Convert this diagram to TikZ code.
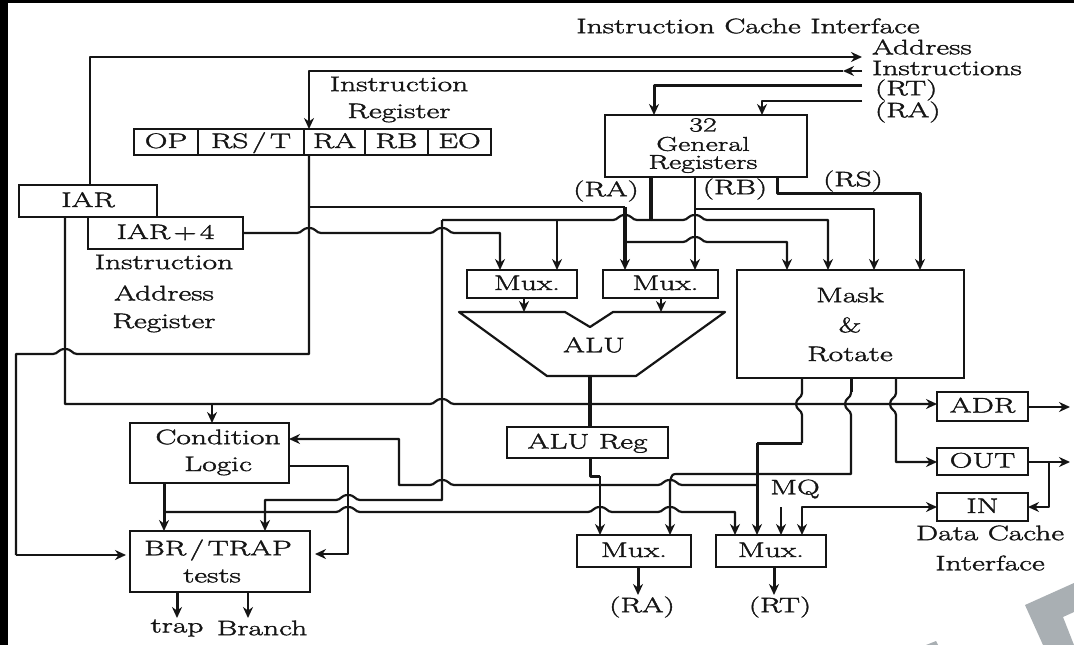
\documentclass[tikz,border=0pt]{standalone}
\usepackage{fontspec}
\setmainfont{Latin Modern Roman}[FakeStretch=1.5,FakeBold=1.8]
\usetikzlibrary{arrows.meta}
\definecolor{ink}{HTML}{151515}
\definecolor{wmark}{HTML}{A9AFB3}
\tikzset{
  wire/.style={draw=ink,line width=2.2pt,line join=round},
  medium/.style={draw=ink,line width=3pt,line join=round},
  heavy/.style={draw=ink,line width=3.3pt,line join=round},
  tip/.tip={Stealth[length=11pt,width=10pt]},
  box/.style={draw=ink,line width=2.4pt,rectangle,inner sep=0pt,outer sep=0pt,fill=white,text=ink,font=\fontsize{21}{24}\selectfont,text height=14pt,text depth=2pt},
  lbl/.style={inner sep=0pt,outer sep=0pt,text=ink,font=\fontsize{21}{24}\selectfont},
  lblgr/.style={inner sep=0pt,outer sep=0pt,text=ink,font=\fontsize{20}{23}\selectfont},
}
% box given by its corners
\newcommand{\mybox}[6]{\node[box,minimum width={(#4-#2)*1pt},minimum height={(#5-#3)*1pt}] (#1) at ({(#2+#4)/2},{(#3+#5)/2}) {#6};}
% hops over a crossing wire
\def\hh#1#2{-- ({#1-12},#2) .. controls ({#1-7},#2) and ({#1-7},{#2-5}) .. (#1,{#2-5}) .. controls ({#1+7},{#2-5}) and ({#1+7},#2) .. ({#1+12},#2)}
\def\hl#1#2{-- ({#1+12},#2) .. controls ({#1+7},#2) and ({#1+7},{#2-5}) .. (#1,{#2-5}) .. controls ({#1-7},{#2-5}) and ({#1-7},#2) .. ({#1-12},#2)}
\def\hv#1#2{-- (#1,{#2-11}) .. controls (#1,{#2-6}) and ({#1-6},{#2-6}) .. ({#1-6},#2) .. controls ({#1-6},{#2+6}) and (#1,{#2+6}) .. (#1,{#2+11})}
\begin{document}
\begin{tikzpicture}[x=1pt,y=-1pt]
\useasboundingbox (0,0) rectangle (1074,645);
% page: black edge, white sheet, grey watermark
\fill[black] (0,0) rectangle (1074,645);
\fill[white] (8,3) rectangle (1074,645);
\fill[wmark] (1025,605) -- (1074,583) -- (1074,612) -- (1063,617) -- (1074,645) -- (1043,645) -- cycle;
\fill[wmark] (926,645) -- (936,641) -- (938,645) -- cycle;

% boxes
\mybox{op}{134}{129}{198}{155}{OP}
\mybox{rst}{198}{129}{304}{155}{RS\,/\,T}
\mybox{ra}{304}{129}{365}{155}{RA}
\mybox{rb}{365}{129}{428}{155}{RB}
\mybox{eo}{428}{129}{491}{155}{EO}
\mybox{iar}{19}{185}{157}{217}{IAR}
\mybox{iarp}{88}{217}{243}{249}{IAR\,+\,4}
\mybox{gr}{605}{115}{807}{177}{}
\mybox{muxa}{467}{270}{577}{298}{\hspace*{10pt}Mux.}
\mybox{muxb}{603}{270}{718}{298}{\hspace*{10pt}Mux.}
\mybox{mask}{737}{270}{964}{378}{}
\mybox{alureg}{507}{427}{668}{458}{ALU\ Reg}
\mybox{cond}{130}{423}{289}{483}{}
\mybox{brt}{130}{531}{310}{592}{}
\mybox{muxc}{577}{535}{691}{567}{Mux.}
\mybox{muxd}{716}{535}{826}{567}{Mux.}
\mybox{adr}{937}{392}{1028}{421}{ADR}
\mybox{out}{937}{448}{1028}{475}{OUT}
\mybox{in}{937}{493}{1028}{521}{IN}
\draw[draw=ink,line width=2.2pt,fill=white,line join=round] (459,312) -- (565,312) -- (590,327) -- (613,312) -- (725,312) -- (636,376) -- (547,376) -- cycle;
\coordinate (alubot) at (590,376);

% free wire ends
\coordinate (addrEnd) at (862,57);
\coordinate (instEnd) at (862,71);
\coordinate (instTip) at (843,71);
\coordinate (rtEnd) at (862,85);
\coordinate (raEnd) at (862,101);
\coordinate (adrOut) at (1070,407);
\coordinate (outOut) at (1070,462);
\coordinate (mqEnd) at (781,507);
\coordinate (trapEnd) at (177,618);
\coordinate (branchEnd) at (248,618);
\coordinate (raOut) at (638,595);
\coordinate (rtOut) at (774,595);

% instruction cache side
\draw[wire,-tip] (90,0 |- iar.north) -- (90,57) -- (addrEnd);
\draw[wire,-tip] (instEnd) -- (instTip);
\draw[wire,-tip] (instTip) -- (309,71) -- (309,0 |- ra.north);
\draw[medium,-tip] (rtEnd) -- (654,85) -- (654,0 |- gr.north);
\draw[wire,-tip] (raEnd) -- (762,101) -- (762,0 |- gr.north);

% IAR+4 to first Mux.
\draw[wire,-tip] (iarp.east) \hh{309}{233} \hh{442}{233} -- (500,233) -- (500,0 |- muxa.north);

% RA field of the instruction register
\draw[wire] (309,0 |- ra.south) -- (309,354) \hl{65}{354} -- (16,354) -- (16,555);
\draw[wire,-tip] (16,555) -- (126,555);
\draw[wire] (309,207) -- (625,207);
\draw[heavy,-tip] (625,207) -- (625,0 |- muxb.north);
\draw[wire,-tip] (625,242) \hh{695}{242} -- (787,242) -- (787,0 |- mask.north);

% general registers
\draw[heavy] (651,0 |- gr.south) -- (651,220);
\draw[wire] (651,220) \hl{625}{220} -- (442,220);
\draw[wire,-tip] (557,220) -- (557,0 |- muxa.north);
\draw[wire,-tip] (651,220) \hh{695}{220} -- (828,220) -- (828,0 |- mask.north);
\draw[wire,-tip] (695,0 |- gr.south) -- (695,0 |- muxb.north);
\draw[wire,-tip] (695,209) -- (874,209) -- (874,0 |- mask.north);
\draw[medium,-tip] (777,0 |- gr.south) -- (777,193) -- (920,193) -- (920,0 |- mask.north);

% bus down to the branch logic
\draw[wire,-tip] (442,220) -- (442,500) \hl{348}{500} -- (265,500) -- (265,0 |- brt.north);

% muxes to ALU
\draw[wire,-tip] (524,0 |- muxa.south) -- (524,312);
\draw[wire,-tip] (661,0 |- muxb.south) -- (661,312);
\draw[heavy] (alubot) -- (590,0 |- alureg.north);
\draw[medium] (590,0 |- alureg.south) -- (590,476) -- (600,476);
\draw[wire,-tip] (600,476) -- (600,0 |- muxc.north);

% IAR to ADR and condition logic
\draw[wire,-tip] (65,0 |- iar.south) -- (65,404) \hh{442}{404} -- (adr.west |- 0,404);
\draw[wire,-tip] (212,404) -- (212,0 |- cond.north);

% condition logic
\draw[medium,-tip] (164,0 |- cond.south) -- (164,0 |- brt.north);
\draw[wire,-tip] (289,466) -- (348,466) -- (348,554) -- (315,554);
\draw[wire,-tip] (757,485) \hl{670}{485} \hl{442}{485} -- (399,485) -- (399,439) -- (cond.east |- 0,439);
\draw[wire,-tip] (164,512) \hh{348}{512} \hh{600}{512} \hh{670}{512} -- (735,512) -- (735,0 |- muxd.north);

% BR/TRAP outputs
\draw[medium,-tip] (177,0 |- brt.south) -- (trapEnd);
\draw[wire,-tip] (248,0 |- brt.south) -- (branchEnd);

% mask and rotate outputs
\draw[wire] (802,0 |- mask.south) \hv{802}{404} -- (802,443);
\draw[medium] (802,443) -- (757,443);
\draw[medium,-tip] (757,443) -- (757,0 |- muxd.north);
\draw[medium] (851,0 |- mask.south) -- (851,392);
\draw[wire,-tip] (851,392) \hv{851}{404} -- (851,474) -- (678,474) .. controls (672,474) .. (670,482) -- (670,0 |- muxc.north);
\draw[wire,-tip] (896,0 |- mask.south) \hv{896}{404} -- (896,462) -- (out.west |- 0,462);

% data cache side
\draw[wire,-tip] (adr.east |- 0,407) -- (adrOut);
\draw[wire,-tip] (out.east |- 0,462) -- (outOut);
\draw[wire,-tip] (1049,462) -- (1049,507) -- (in.east |- 0,507);
\draw[wire,{tip[]}-{tip[]}] (802,0 |- muxd.north) -- (802,507) -- (in.west |- 0,507);
\draw[wire,-tip] (mqEnd) -- (781,0 |- muxd.north);
\draw[medium,-tip] (638,0 |- muxc.south) -- (raOut);
\draw[medium,-tip] (774,0 |- muxd.south) -- (rtOut);

% labels
\node[lbl] (tcache) at (748,26) {Instruction\ Cache\ Interface};
\node[lbl,anchor=west] (taddr) at (872,47) {Address};
\node[lbl,anchor=west] (tinst) at (872,68) {Instructions};
\node[lbl,anchor=west] (trt) at (875,90) {(RT)};
\node[lbl,anchor=west] (tra) at (875,112) {(RA)};
\node[lbl] (tir1) at (399,84) {Instruction};
\node[lbl] (tir2) at (399,113) {Register};
\node[lblgr] (t32) at (703,125) {32};
\node[lblgr] (tgen) at (703,144) {General};
\node[lblgr] (treg) at (703,164) {Registers};
\node[lbl] (tgra) at (606,191) {(RA)};
\node[lbl] (tgrb) at (735,189) {(RB)};
\node[lbl] (tgrs) at (853,181) {(RS)};
\node[lbl] (tia1) at (164,262) {Instruction};
\node[lbl] (tia2) at (164,293) {Address};
\node[lbl] (tia3) at (164,323) {Register};
\node[lbl] (tmask) at (850,295) {Mask};
\node[lbl] (tamp) at (850,325) {\&};
\node[lbl] (trot) at (850,354) {Rotate};
\node[lbl] (talu) at (594,345) {ALU};
\node[lbl] (tcond) at (218,437) {Condition};
\node[lbl] (tlogic) at (218,466) {Logic};
\node[lbl] (tbr) at (218,550) {BR\,/\,TRAP};
\node[lbl] (ttests) at (212,576) {tests};
\node[lbl] (ttrap) at (177,628) {trap};
\node[lbl] (tbranch) at (262,628) {Branch};
\node[lbl] (tmq) at (795,489) {MQ};
\node[lbl] (tora) at (642,607) {(RA)};
\node[lbl] (tort) at (780,607) {(RT)};
\node[lbl] (tdc1) at (990,533) {Data\ Cache};
\node[lbl] (tdc2) at (990,563) {Interface};
\end{tikzpicture}
\end{document}
